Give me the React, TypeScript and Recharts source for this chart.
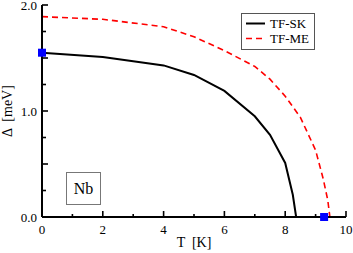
import React from 'react';
import { ComposedChart, Line, Scatter, XAxis, YAxis, Legend } from 'recharts';

const T_SK = [0, 2, 4, 5, 6, 7, 7.5, 8, 8.25, 8.36];
const D_SK = [1.55, 1.51, 1.43, 1.34, 1.19, 0.95, 0.775, 0.51, 0.21, 0];
const T_ME = [0, 2, 4, 5, 6, 7, 7.5, 8, 8.5, 9, 9.25, 9.4, 9.47];
const D_ME = [1.89, 1.865, 1.795, 1.7, 1.57, 1.42, 1.3, 1.14, 0.94, 0.63, 0.36, 0.16, 0];
const T_EXP = [0, 9.28];
const D_EXP = [1.55, 0];
const X_TICKS = [0, 1, 2, 3, 4, 5, 6, 7, 8, 9, 10];
const Y_TICKS = [0, 0.25, 0.5, 0.75, 1, 1.25, 1.5, 1.75, 2];
const SERIES_NAMES = ['TF-SK', 'TF-ME'];

const sk = T_SK.map((t, i) => ({ T: t, D: D_SK[i] }));
const me = T_ME.map((t, i) => ({ T: t, D: D_ME[i] }));
const exp = T_EXP.map((t, i) => ({ T: t, D: D_EXP[i] }));

const FONT = "'Liberation Serif', 'Times New Roman', serif";
const TXT: React.CSSProperties = { fontFamily: FONT, fontSize: 13, whiteSpace: 'pre' };
const TITLE: React.CSSProperties = { fontFamily: FONT, fontSize: 14, whiteSpace: 'pre' };
const SW = 1.6;

const XBottomTick = (p: any) => {
  const { x, y, payload } = p;
  const v = payload.value;
  const major = v % 2 === 0;
  return (
    <g>
      <line x1={x} y1={y} x2={x} y2={y - (major ? 6 : 3)} stroke="#000" strokeWidth={SW} />
      {major && (
        <text x={x} y={y + 16.5} textAnchor="middle" style={TXT} fill="#000">
          {v}
        </text>
      )}
    </g>
  );
};

const XTopTick = (p: any) => {
  const { x, y, payload } = p;
  const major = payload.value % 2 === 0;
  return <line x1={x} y1={y} x2={x} y2={y + (major ? 6 : 3)} stroke="#000" strokeWidth={SW} />;
};

const YLeftTick = (p: any) => {
  const { x, y, payload } = p;
  const v = payload.value;
  const major = Math.abs(v * 2 - Math.round(v * 2)) < 1e-6;
  const labeled = Math.abs(v - Math.round(v)) < 1e-6;
  return (
    <g>
      <line x1={x} y1={y} x2={x + (major ? 6 : 4)} y2={y} stroke="#000" strokeWidth={SW} />
      {labeled && (
        <text x={x - 5} y={y + 4.5} textAnchor="end" style={TXT} fill="#000">
          {v.toFixed(1)}
        </text>
      )}
    </g>
  );
};

const YRightTick = (p: any) => {
  const { x, y, payload } = p;
  const v = payload.value;
  const major = Math.abs(v * 2 - Math.round(v * 2)) < 1e-6;
  return <line x1={x} y1={y} x2={x - (major ? 6 : 4)} y2={y} stroke="#000" strokeWidth={SW} />;
};

const Square = (p: any) => {
  const { cx, cy } = p;
  if (cx == null || cy == null) return null;
  return <rect x={cx - 4} y={cy - 4} width={8} height={8} fill="#0000ff" />;
};

const LegendContent = () => (
  <svg width={74} height={37} style={{ display: 'block' }}>
    <rect x={0.5} y={0.5} width={73} height={36} fill="#fff" stroke="#555" strokeWidth={1} />
    <line x1={5} y1={10.5} x2={24} y2={10.5} stroke="#000" strokeWidth={2} />
    <text x={29} y={15} style={TXT} fill="#000">{SERIES_NAMES[0]}</text>
    <line x1={5} y1={25.5} x2={24} y2={25.5} stroke="#ff0000" strokeWidth={1.6} strokeDasharray="6 4" />
    <text x={29} y={30} style={TXT} fill="#000">{SERIES_NAMES[1]}</text>
  </svg>
);

const XLabel = (p: any) => {
  const vb = p.viewBox || {};
  return (
    <text x={vb.x + vb.width / 2} y={246.5} textAnchor="middle" style={TITLE} fill="#000">
      {'T  [K]'}
    </text>
  );
};

const YLabel = (p: any) => {
  const vb = p.viewBox || {};
  const cy = vb.y + vb.height / 2;
  return (
    <text x={12} y={cy} textAnchor="middle" style={TITLE} fill="#000" transform={`rotate(-90, 12, ${cy})`}>
      {'Δ  [meV]'}
    </text>
  );
};

export default function App() {
  return (
    <div style={{ position: 'absolute', left: 0, top: 0, width: 353, height: 253, background: '#fff' }}>
      <ComposedChart width={353} height={253} margin={{ top: 5, right: 7, left: 0, bottom: 0 }}>
        <XAxis
          xAxisId="b"
          dataKey="T"
          type="number"
          domain={[0, 10]}
          ticks={X_TICKS}
          interval={0}
          height={36}
          tickSize={0}
          tickMargin={0}
          tickLine={false}
          tick={XBottomTick}
          axisLine={{ stroke: '#000', strokeWidth: 2 }}
          label={<XLabel />}
        />
        <XAxis
          xAxisId="t"
          orientation="top"
          dataKey="T"
          type="number"
          domain={[0, 10]}
          ticks={X_TICKS}
          interval={0}
          height={0}
          tickSize={0}
          tickMargin={0}
          tickLine={false}
          tick={XTopTick}
          axisLine={{ stroke: '#000', strokeWidth: 2 }}
        />
        <YAxis
          yAxisId="l"
          type="number"
          domain={[0, 2]}
          ticks={Y_TICKS}
          interval={0}
          width={42}
          tickSize={0}
          tickMargin={0}
          tickLine={false}
          tick={YLeftTick}
          axisLine={{ stroke: '#000', strokeWidth: 2 }}
          label={<YLabel />}
        />
        <YAxis
          yAxisId="r"
          orientation="right"
          type="number"
          domain={[0, 2]}
          ticks={Y_TICKS}
          interval={0}
          width={0}
          tickSize={0}
          tickMargin={0}
          tickLine={false}
          tick={YRightTick}
          axisLine={{ stroke: '#000', strokeWidth: 2 }}
        />
        <Legend
          layout="horizontal"
          verticalAlign="middle"
          align="center"
          content={<LegendContent />}
          wrapperStyle={{ position: 'absolute', left: 241, top: 13, width: 74, height: 37 }}
        />
        <Line
          xAxisId="b"
          yAxisId="l"
          data={sk}
          dataKey="D"
          name={SERIES_NAMES[0]}
          type="linear"
          stroke="#000"
          strokeWidth={2}
          dot={false}
          isAnimationActive={false}
        />
        <Line
          xAxisId="b"
          yAxisId="l"
          data={me}
          dataKey="D"
          name={SERIES_NAMES[1]}
          type="linear"
          stroke="#ff0000"
          strokeWidth={1.6}
          strokeDasharray="6 4"
          dot={false}
          isAnimationActive={false}
        />
        <Scatter
          xAxisId="b"
          yAxisId="l"
          data={exp}
          dataKey="D"
          shape={Square}
          legendType="none"
          isAnimationActive={false}
        />
      </ComposedChart>
      <div
        style={{
          position: 'absolute',
          left: 66,
          top: 172,
          width: 35,
          height: 33,
          boxSizing: 'border-box',
          border: '1px solid #777',
          display: 'flex',
          alignItems: 'center',
          justifyContent: 'center',
          fontFamily: FONT,
          fontSize: 16,
          color: '#000',
        }}
      >
        Nb
      </div>
    </div>
  );
}
